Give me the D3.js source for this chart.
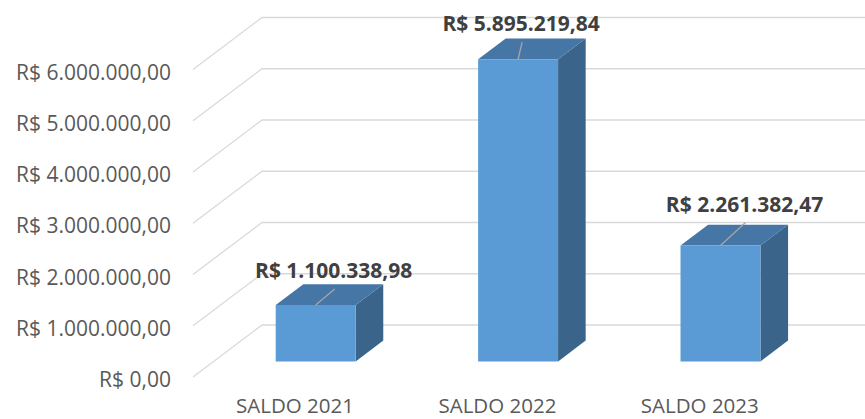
<!doctype html>
<html>
<head>
    <meta charset="utf-8"/>
    <style>
        body { margin: 0; background: #fff; }
        svg { display: block; }
        text { font-family: "Open Sans", sans-serif; }
    </style>
    <script src="https://d3js.org/d3.v7.min.js"></script>
</head>
<body>
<svg width="865" height="419"></svg>
<script>

    // chart data
    var categories = ["SALDO 2021", "SALDO 2022", "SALDO 2023"];
    var values = [1100338.98, 5895219.84, 2261382.47];
    var ticks = [0, 1000000, 2000000, 3000000, 4000000, 5000000, 6000000];
    // hand placed data label nudges (dx, dy of the baseline from the bar's top front centre)
    var labelNudge = [[18, -27], [3, -28], [24, -34]];

    var svg = d3.select("svg");

    // oblique 3d: depth vector from the front (t=0) to the back wall (t=1)
    var depthX = 69, depthY = -52;
    var barT0 = 0.3, barT1 = 0.7;

    // scales live on the back wall
    var x = d3.scaleBand()
        .domain(categories)
        .range([262.8, 870])
        .paddingInner(0.605)
        .paddingOuter(0.3025);

    var y = d3.scaleLinear()
        .domain([0, 6000000])
        .range([325, 17.5]);

    // project a point (screen x/y on the back wall) forward to depth t
    function px(xb, t) { return xb - depthX * (1 - t); }
    function py(yb, t) { return yb - depthY * (1 - t); }

    var fmt = d3.formatLocale({decimal: ",", thousands: ".", grouping: [3], currency: ["R$ ", ""]}).format("$,.2f");

    // gridlines: diagonal on the side wall, then horizontal on the back wall
    var grid = svg.append("g").attr("class", "grid")
        .attr("stroke", "#d9d9d9").attr("stroke-width", 1.3).attr("fill", "none");

    grid.selectAll("path")
        .data(ticks)
        .join("path")
        .attr("d", function(d) {
            var yb = y(d);
            return "M" + px(262, 0) + "," + py(yb, 0) + "L262," + yb + "L865," + yb;
        });

    // axis labels at the front end of each gridline
    svg.append("g")
        .selectAll("text")
        .data(ticks)
        .join("text")
        .attr("x", 171)
        .attr("y", function(d) { return py(y(d), 0) + 10; })
        .attr("text-anchor", "end")
        .attr("fill", "#595959")
        .style("font-size", "21px")
        .text(function(d) { return fmt(d); });

    // bars
    var bars = svg.append("g").selectAll("g")
        .data(values)
        .join("g");

    function poly(pts) {
        return "M" + pts.map(function(p) { return p[0] + "," + p[1]; }).join("L") + "Z";
    }

    bars.each(function(d, i) {
        var g = d3.select(this);
        var xl = x(categories[i]), xr = xl + x.bandwidth();
        var y0 = y(0), y1 = y(d);

        var fl = px(xl, barT0), fr = px(xr, barT0);
        var bl = px(xl, barT1), br = px(xr, barT1);
        var fb = py(y0, barT0), ft = py(y1, barT0);
        var bb = py(y0, barT1), bt = py(y1, barT1);

        // right side
        g.append("path")
            .attr("d", poly([[fr, ft], [br, bt], [br, bb], [fr, fb]]))
            .attr("fill", "#3a6489");
        // top
        g.append("path")
            .attr("d", poly([[fl, ft], [bl, bt], [br, bt], [fr, ft]]))
            .attr("fill", "#4576a6");
        // front
        g.append("path")
            .attr("d", poly([[fl, ft], [fr, ft], [fr, fb], [fl, fb]]))
            .attr("fill", "#5b9bd5");
    });

    // data labels with leader lines
    var labels = svg.append("g");
    values.forEach(function(d, i) {
        var cx = px(x(categories[i]) + x.bandwidth() / 2, barT0);
        var top = py(y(d), barT0);
        var lx = cx + labelNudge[i][0], ly = top + labelNudge[i][1];

        labels.append("line")
            .attr("x1", cx).attr("y1", top)
            .attr("x2", lx + 1).attr("y2", ly + 11)
            .attr("stroke", "#a6a6a6").attr("stroke-width", 1.3);

        labels.append("text")
            .attr("x", lx)
            .attr("y", ly)
            .attr("text-anchor", "middle")
            .attr("fill", "#404040")
            .style("font-size", "21px")
            .style("font-weight", "bold")
            .text(fmt(d));
    });

    // category labels at the front of the floor
    svg.append("g")
        .selectAll("text")
        .data(categories)
        .join("text")
        .attr("x", function(d) { return px(x(d) + x.bandwidth() / 2, 0); })
        .attr("y", 413)
        .attr("text-anchor", "middle")
        .attr("fill", "#595959")
        .style("font-size", "20.5px")
        .text(function(d) { return d; });

</script>
</body>
</html>
